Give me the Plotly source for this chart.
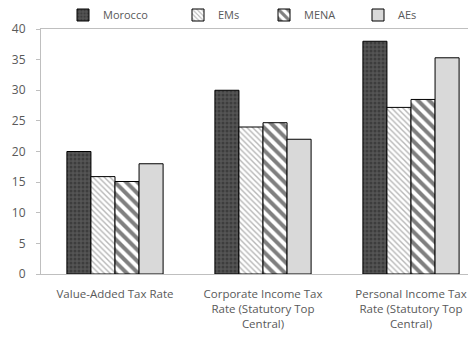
import plotly.graph_objects as go

categories = ["Value-Added Tax Rate",
              "Corporate Income Tax<br>Rate (Statutory Top<br>Central)",
              "Personal Income Tax<br>Rate (Statutory Top<br>Central)"]
series_names = ["Morocco", "EMs", "MENA", "AEs"]
morocco = [20.0, 30.0, 38.0]
ems = [15.9, 24.0, 27.2]
mena = [15.1, 24.7, 28.5]
aes = [18.0, 22.0, 35.3]
y_ticks = [0, 5, 10, 15, 20, 25, 30, 35, 40]

values = [morocco, ems, mena, aes]
styles = [
    dict(color="#555555", pattern=dict(shape=".", bgcolor="#555555", fgcolor="#262626", size=4, solidity=0.45)),
    dict(color="white", pattern=dict(shape="\\", bgcolor="white", fgcolor="#6f6f6f", size=4, solidity=0.35)),
    dict(color="white", pattern=dict(shape="\\", bgcolor="white", fgcolor="black", size=8, solidity=0.5)),
    dict(color="#d9d9d9"),
]
legend_names = ["legend", "legend2", "legend3", "legend4"]
text_start_px = [103, 218, 304, 398]

# the page body has an 8px margin; the figure is sized to fit the window exactly
OFF = 8
W_FIG, H = 476 - OFF, 338 - OFF
L = 41 - OFF
T = 29 - OFF
B = H - (274 - OFF)
plot_w = W_FIG - L
span = plot_w / 148.0

fig = go.Figure()
x_idx = [0, 1, 2]
for name, vals, st, lg in zip(series_names, values, styles, legend_names):
    fig.add_trace(go.Bar(
        x=x_idx, y=vals, name=name, legend=lg,
        marker=dict(line=dict(color="black", width=1), **st),
    ))

font = dict(family="Open Sans", size=12, color="#595959")
xfont = dict(family="Open Sans", size=11.5, color="#595959")
layout_legends = {}
for lg, tx in zip(legend_names, text_start_px):
    layout_legends[lg] = dict(
        x=(tx - 40 - OFF) / W_FIG, xanchor="left", xref="container",
        y=1 - 7 / H, yanchor="middle", yref="container",
        orientation="h", bgcolor="rgba(0,0,0,0)", borderwidth=0,
        font=dict(family="Open Sans", size=11, color="#595959"),
        itemwidth=30, tracegroupgap=0,
    )

fig.update_layout(
    width=W_FIG, height=H,
    margin=dict(l=L, r=0, t=T, b=B, autoexpand=False),
    paper_bgcolor="white", plot_bgcolor="white",
    barmode="group", bargap=0.35, bargroupgap=0,
    font=font,
    showlegend=True,
    **layout_legends,
)
fig.update_xaxes(
    tickmode="array", tickvals=x_idx, ticktext=categories,
    range=[-0.5, -0.5 + span], showgrid=False, zeroline=False,
    showline=True, linecolor="#bfbfbf", linewidth=1, mirror=True,
    ticks="", tickfont=xfont, tickangle=0, automargin=False,
    ticklabelstandoff=9,
)
fig.update_yaxes(
    range=[0, 40], tickvals=y_ticks, showgrid=False, zeroline=False,
    showline=True, linecolor="#bfbfbf", linewidth=1,
    ticks="outside", ticklen=4, tickcolor="#bfbfbf",
    tickfont=font, ticklabelstandoff=8, automargin=False,
)
fig.write_html("out.html")
